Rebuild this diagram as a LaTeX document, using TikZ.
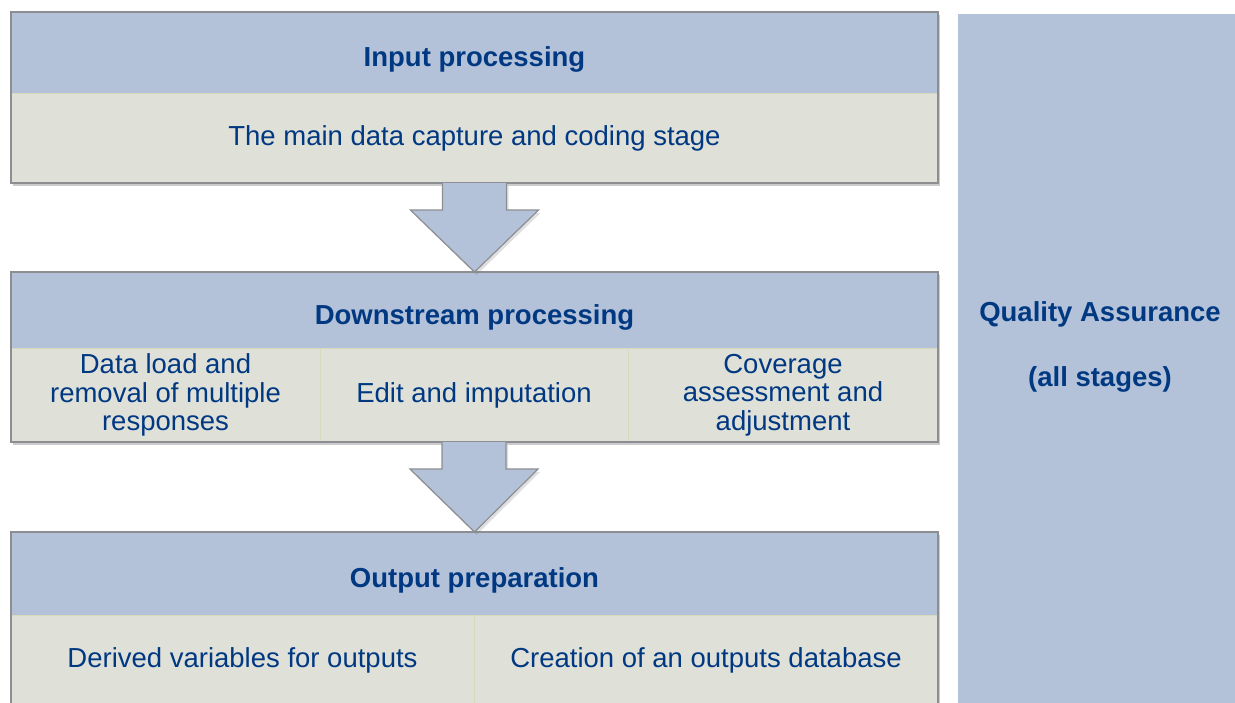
\documentclass[tikz,border=0pt]{standalone}
\usepackage{fontspec}
\setmainfont{Liberation Sans}
\usetikzlibrary{positioning,calc,shadows,backgrounds}

\definecolor{headblue}{HTML}{B3C2D9}
\definecolor{cellgrey}{HTML}{DFE0D8}
\definecolor{celledge}{HTML}{D6D9BC}
\definecolor{framegrey}{HTML}{8C8E92}
\definecolor{textblue}{HTML}{003882}

% block arrow from the bottom of one stage to the top of the next
\newcommand{\flowarrow}[2]{%
  \draw[flow] ($(#1)+(-32,0)$) -- ($(#1)+(-32,27)$) -- ($(#1)+(-64,27)$) -- (#2)
    -- ($(#1)+(64,27)$) -- ($(#1)+(32,27)$) -- ($(#1)+(32,0)$);}

\begin{document}
\begin{tikzpicture}[x=1pt, y=-1pt,
			every node/.style={inner sep=0pt, outer sep=0pt, align=center, anchor=north west,
				text=textblue, font=\fontsize{27.5}{28.5}\selectfont},
			head/.style={fill=headblue, font=\fontsize{27.5}{28.5}\selectfont\bfseries,
				text height=28pt, text depth=0pt, minimum width=927pt},
			cell/.style={fill=cellgrey, draw=celledge, line width=0.8pt},
			frame/.style={draw=framegrey, line width=1.2pt},
			boxshadow/.style={fill=black, opacity=0.2},
			flow/.style={fill=headblue, draw=framegrey, line width=1.2pt,
				drop shadow={opacity=0.25, shadow xshift=2pt, shadow yshift=-3pt}}
			]
			\useasboundingbox (0,0) rectangle (1235,702);
			
			% Input processing
			\node[head, minimum height=81pt] (inhead) at (11,12) {Input processing};
			\node[cell, minimum width=927pt, minimum height=90pt] (inbody) at (inhead.south west)
				{The main data capture and coding stage};
			
			% Downstream processing
			\node[head, minimum height=76pt] (dshead) at (11,272) {Downstream processing};
			\node[cell, minimum width=309pt, minimum height=94pt] (dsload) at (dshead.south west)
				{Data load and\\removal of multiple\\responses};
			\node[cell, minimum width=308pt, minimum height=94pt, right=0pt of dsload] (dsedit)
				{Edit and imputation};
			\node[cell, minimum width=310pt, minimum height=94pt, right=0pt of dsedit] (dscover)
				{Coverage\\assessment and\\adjustment};
			
			% Output preparation
			\node[head, minimum height=83pt] (ophead) at (11,532) {Output preparation};
			\node[cell, minimum width=463pt, minimum height=90pt] (opderived) at (ophead.south west)
				{Derived variables for outputs};
			\node[cell, minimum width=464pt, minimum height=90pt, right=0pt of opderived] (opdb)
				{Creation of an outputs database};
			
			% Quality assurance column
			\node[fill=headblue, minimum width=284pt, minimum height=698pt] (qa) at (958,14) {};
			\node[anchor=center, font=\fontsize{27.5}{28.5}\selectfont\bfseries] (qalabel)
				at ($(qa.center)+(0,-16)$) {Quality Assurance\\[36pt](all stages)};
			
			% frames and shadows
			\begin{scope}[on background layer]
				\fill[boxshadow] ($(inhead.north west)+(2,3)$) rectangle ($(inbody.south east)+(2,3)$);
				\fill[boxshadow] ($(dshead.north west)+(2,3)$) rectangle ($(dscover.south east)+(2,3)$);
				\fill[boxshadow] ($(ophead.north west)+(2,3)$) rectangle ($(opdb.south east)+(2,3)$);
			\end{scope}
			\draw[frame] (inhead.north west) rectangle (inbody.south east);
			\draw[frame] (dshead.north west) rectangle (dscover.south east);
			\draw[frame] (ophead.north west) rectangle (opdb.south east);
			
			% arrows between stages
			\flowarrow{inbody.south}{dshead.north}
			\flowarrow{dsedit.south}{ophead.north}
			
		\end{tikzpicture}
\end{document}
